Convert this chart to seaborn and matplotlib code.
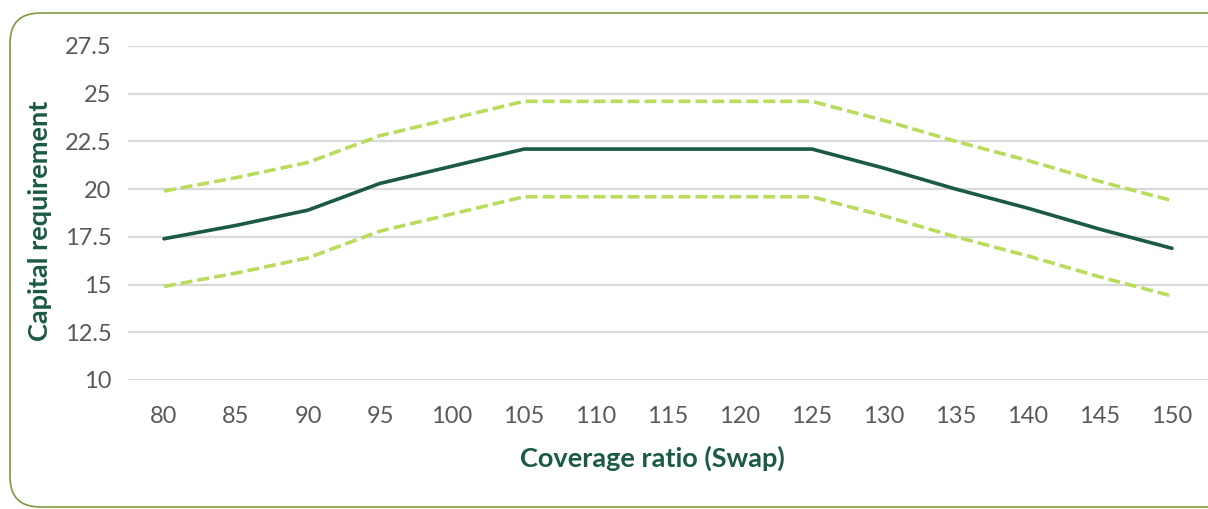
import matplotlib
matplotlib.use("Agg")
import matplotlib.pyplot as plt
from matplotlib.patches import FancyBboxPatch
import seaborn as sns
import pandas as pd

# data
coverage = [80, 85, 90, 95, 100, 105, 110, 115, 120, 125, 130, 135, 140, 145, 150]
capital = [17.4, 18.1, 18.9, 20.3, 21.2, 22.1, 22.1, 22.1, 22.1, 22.1, 21.1, 20.0, 19.0, 17.9, 16.9]
upper = [19.9, 20.6, 21.4, 22.8, 23.7, 24.6, 24.6, 24.6, 24.6, 24.6, 23.6, 22.5, 21.5, 20.4, 19.4]
lower = [14.9, 15.6, 16.4, 17.8, 18.7, 19.6, 19.6, 19.6, 19.6, 19.6, 18.6, 17.5, 16.5, 15.4, 14.4]
y_ticks = [10, 12.5, 15, 17.5, 20, 22.5, 25, 27.5]

df = pd.DataFrame({"coverage": coverage, "capital": capital,
                   "upper": upper, "lower": lower})

sns.set_style("white")
plt.rcParams['font.family'] = ['Lato', 'DejaVu Sans']

dark = "#1b5a44"
light = "#b9dc5c"
grey = "#595959"

fig = plt.figure(figsize=(12.08, 5.09), dpi=100)
ax = fig.add_axes([128 / 1208, 1 - 380 / 509, 1 - 128 / 1208, (380 - 46) / 509])

# rounded frame around the chart
frame = FancyBboxPatch((10 / 1208, 1 - 507 / 509), 1.2, (507 - 13) / 509,
                       boxstyle="round,pad=0,rounding_size=0.025",
                       transform=fig.transFigure, fill=False,
                       edgecolor="#7a9c3c", linewidth=1.2, mutation_aspect=1208 / 509)
fig.patches.append(frame)

for v in y_ticks:
    ax.axhline(v, color="#d9d9d9", linewidth=1.6, zorder=0)

sns.lineplot(data=df, x="coverage", y="upper", ax=ax, color=light,
             linewidth=2.6, zorder=3).lines[-1].set_dashes((3.3, 1.4))
sns.lineplot(data=df, x="coverage", y="lower", ax=ax, color=light,
             linewidth=2.6, zorder=3).lines[-1].set_dashes((3.3, 1.4))
sns.lineplot(data=df, x="coverage", y="capital", ax=ax, color=dark,
             linewidth=2.6, zorder=4)

ax.set_xlim(77.5, 152.5)
ax.set_ylim(10, 27.5)
ax.set_xticks(coverage)
ax.set_xticklabels([str(c) for c in coverage])
ax.set_yticks(y_ticks)
ax.set_yticklabels([f"{v:g}" for v in y_ticks])
ax.tick_params(axis="both", length=0, labelsize=17, labelcolor=grey)
ax.tick_params(axis="y", pad=12)
ax.tick_params(axis="x", pad=19)
ax.grid(False)
sns.despine(ax=ax, left=True, bottom=True, top=True, right=True)

ax.set_xlabel("Coverage ratio (Swap)", fontsize=19.5, fontweight="bold",
              color=dark, va="center", ha="center")
ax.xaxis.set_label_coords(652 / 1208, 1 - 458 / 509, transform=fig.transFigure)
ax.set_ylabel("Capital requirement", fontsize=19.5, fontweight="bold",
              color=dark, va="center", ha="center", rotation_mode="anchor")
ax.yaxis.set_label_coords(40 / 1208, 1 - 221 / 509, transform=fig.transFigure)

fig.savefig("out.png", dpi=100)
